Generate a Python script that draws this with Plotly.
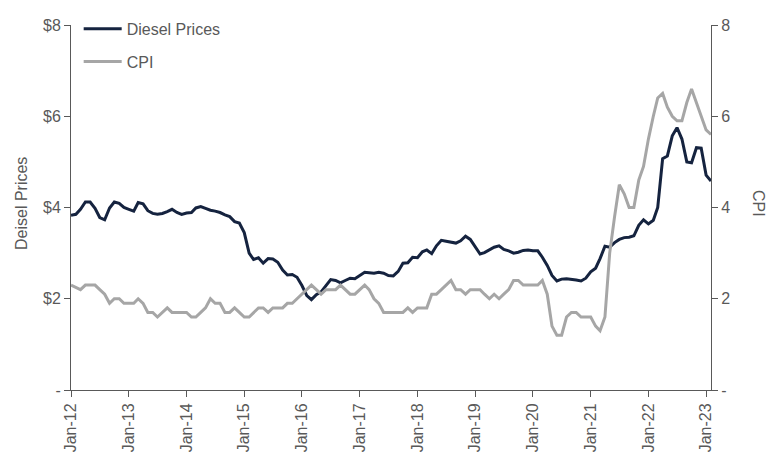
import plotly.graph_objects as go
import pandas as pd

dates = pd.date_range("2012-01-01", "2023-02-01", freq="MS")

diesel = [3.83, 3.85, 3.96, 4.12, 4.12, 3.98, 3.78, 3.73, 3.99, 4.12, 4.09, 4.00,
          3.96, 3.92, 4.11, 4.08, 3.93, 3.87, 3.85, 3.87, 3.91, 3.96, 3.89, 3.85,
          3.88, 3.89, 3.99, 4.02, 3.98, 3.94, 3.92, 3.89, 3.84, 3.80, 3.69, 3.66,
          3.45, 3.00, 2.86, 2.90, 2.78, 2.88, 2.87, 2.80, 2.63, 2.52, 2.53, 2.47,
          2.29, 2.07, 1.98, 2.09, 2.15, 2.30, 2.42, 2.40, 2.35, 2.40, 2.45, 2.44,
          2.52, 2.58, 2.57, 2.56, 2.58, 2.56, 2.51, 2.50, 2.60, 2.78, 2.79, 2.91,
          2.90, 3.03, 3.07, 2.99, 3.16, 3.28, 3.26, 3.24, 3.22, 3.27, 3.37, 3.30,
          3.14, 2.98, 3.01, 3.08, 3.13, 3.16, 3.08, 3.05, 3.00, 3.02, 3.06, 3.07,
          3.05, 3.05, 2.91, 2.73, 2.51, 2.39, 2.43, 2.44, 2.43, 2.41, 2.39, 2.45,
          2.59, 2.67, 2.88, 3.15, 3.13, 3.23, 3.30, 3.34, 3.35, 3.38, 3.61, 3.73,
          3.64, 3.72, 4.00, 5.07, 5.13, 5.57, 5.75, 5.50, 5.00, 4.98, 5.31, 5.30,
          4.71, 4.58]

cpi = [2.3, 2.25, 2.2, 2.3, 2.3, 2.3, 2.2, 2.1, 1.9, 2.0, 2.0, 1.9,
       1.9, 1.9, 2.0, 1.9, 1.7, 1.7, 1.6, 1.7, 1.8, 1.7, 1.7, 1.7,
       1.7, 1.6, 1.6, 1.7, 1.8, 2.0, 1.9, 1.9, 1.7, 1.7, 1.8, 1.7,
       1.6, 1.6, 1.7, 1.8, 1.8, 1.7, 1.8, 1.8, 1.8, 1.9, 1.9, 2.0,
       2.1, 2.2, 2.3, 2.2, 2.1, 2.2, 2.2, 2.2, 2.3, 2.2, 2.1, 2.1,
       2.2, 2.3, 2.2, 2.0, 1.9, 1.7, 1.7, 1.7, 1.7, 1.7, 1.8, 1.7,
       1.8, 1.8, 1.8, 2.1, 2.1, 2.2, 2.3, 2.4, 2.2, 2.2, 2.1, 2.2,
       2.2, 2.2, 2.1, 2.0, 2.1, 2.0, 2.1, 2.2, 2.4, 2.4, 2.3, 2.3,
       2.3, 2.3, 2.4, 2.1, 1.4, 1.2, 1.2, 1.6, 1.7, 1.7, 1.6, 1.6,
       1.6, 1.4, 1.3, 1.6, 3.0, 3.8, 4.5, 4.3, 4.0, 4.0, 4.6, 4.9,
       5.5, 6.0, 6.4, 6.5, 6.2, 6.0, 5.9, 5.9, 6.3, 6.6, 6.3, 6.0,
       5.7, 5.6]

left_ticks = [0, 2, 4, 6, 8]
left_labels = ["-", "$2", "$4", "$6", "$8"]
right_labels = ["-", "2", "4", "6", "8"]

FONT = "Liberation Sans"
TXT = "#595959"
AX = "#595959"

fig = go.Figure()
fig.add_trace(go.Scatter(x=dates, y=diesel, name="Diesel Prices", mode="lines",
                         legendgroup="a",
                         line=dict(color="#15233f", width=3)))
fig.add_trace(go.Scatter(x=dates, y=cpi, name="CPI", mode="lines", yaxis="y2",
                         legendgroup="b",
                         line=dict(color="#a6a6a6", width=3)))

fig.update_layout(
    width=768, height=457,
    margin=dict(l=71, r=57, t=15, b=67),
    plot_bgcolor="white", paper_bgcolor="white",
    font=dict(family=FONT, size=16, color=TXT),
    showlegend=True,
    legend=dict(x=0.012, y=1.036, xanchor="left", yanchor="top",
                bgcolor="rgba(0,0,0,0)", font=dict(size=16, color=TXT),
                tracegroupgap=9, itemwidth=38),
    xaxis=dict(type="date", range=["2012-01-01", "2023-02-01"],
               tick0="2012-01-01", dtick="M12", tickformat="%b-%y",
               tickangle=-90, ticks="outside", ticklen=6, tickcolor=AX,
               showline=True, linecolor=AX, linewidth=1, showgrid=False,
               zeroline=False, automargin=False,
               tickfont=dict(size=16, color=TXT)),
    yaxis=dict(range=[0, 8], tickvals=left_ticks, ticktext=left_labels,
               ticks="outside", ticklen=6, tickcolor=AX,
               showline=True, linecolor=AX, linewidth=1, showgrid=False,
               zeroline=False, automargin=False),
    yaxis2=dict(range=[0, 8], tickvals=left_ticks, ticktext=right_labels,
                overlaying="y", side="right",
                ticks="outside", ticklen=6, tickcolor=AX,
                showline=True, linecolor=AX, linewidth=1, showgrid=False,
                zeroline=False, automargin=False),
    annotations=[
        dict(text="Deisel Prices", xref="paper", yref="paper", x=0, y=0.5,
             xshift=-60, yshift=4, showarrow=False, textangle=-90,
             font=dict(size=16, color=TXT)),
        dict(text="CPI", xref="paper", yref="paper", x=1.0, y=0.5,
             xshift=58, yshift=4, showarrow=False, textangle=90,
             font=dict(size=16, color=TXT)),
    ],
)

fig.write_html("out.html",
               config={"displayModeBar": False},
               post_script="document.body.style.margin='0';"
                           "document.body.style.padding='0';"
                           "document.body.style.overflow='hidden';")
